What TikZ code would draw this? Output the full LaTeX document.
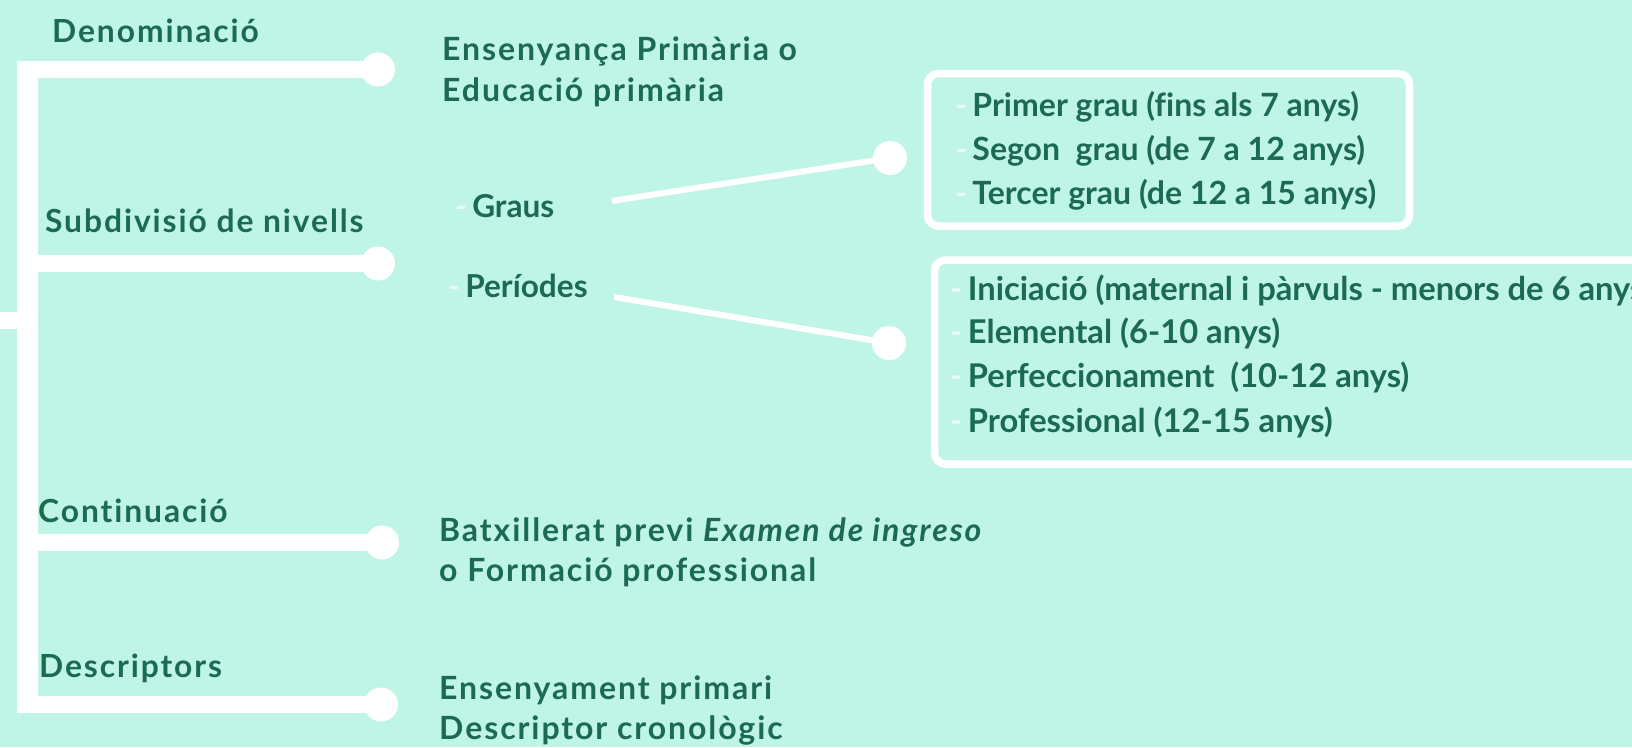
\documentclass[tikz,border=0pt]{standalone}
\usepackage{fontspec}
\setmainfont{Lato}[Ligatures=NoCommon]
\newfontfamily\trackfont{Lato}[LetterSpace=6,Ligatures=NoCommon]
\definecolor{bg}{HTML}{BFF5E7}
\definecolor{ink}{HTML}{1B6A51}
\definecolor{dashc}{HTML}{EAFBF5}
\newcommand{\dsh}{\textcolor{dashc}{-}\,}
\tikzset{
  lbl/.style={anchor=base west, inner sep=0pt, text=ink, font=\trackfont\bfseries\fontsize{31.8}{32}\selectfont},
  val/.style={anchor=base west, inner sep=0pt, text=ink, font=\trackfont\bfseries\fontsize{32}{32}\selectfont},
  sub/.style={anchor=base west, inner sep=0pt, text=ink, font=\bfseries\fontsize{31.6}{32}\selectfont},
  item/.style={anchor=base west, inner sep=0pt, text=ink, font=\bfseries\fontsize{32}{32}\selectfont},
  itemb/.style={anchor=base west, inner sep=0pt, text=ink, font=\bfseries\fontsize{32.7}{33}\selectfont},
  dot/.style={circle, fill=white, draw=none, minimum size=34pt, inner sep=0pt},
  sdot/.style={circle, fill=white, draw=none, minimum size=34pt, inner sep=0pt},
  branch/.style={draw=white, line width=17pt},
  twig/.style={draw=white, line width=6pt},
  frame/.style={draw=white, line width=7.5pt, rounded corners=11pt}
}
\begin{document}
\begin{tikzpicture}[x=1pt,y=-1pt]
\useasboundingbox (0,0) rectangle (1632,747);
\fill[bg] (0,0) rectangle (1632,747);
\clip (0,0) rectangle (1632,747);

% trunk
\fill[white] (17,61) rectangle (38,713);
\fill[white] (0,312) rectangle (17,329);

% end dots
\node[dot] (c1) at (378,69.5) {};
\node[dot] (c2) at (378,263.5) {};
\node[dot] (c3) at (382,542.5) {};
\node[dot] (c4) at (381,704.5) {};
\coordinate (b1) at (17,69.5);
\coordinate (b2) at (17,263.5);
\coordinate (b3) at (17,542.5);
\coordinate (b4) at (17,704.5);
\draw[branch] (b1) -- (c1.center);
\draw[branch] (b2) -- (c2.center);
\draw[branch] (b3) -- (c3.center);
\draw[branch] (b4) -- (c4.center);

% labels
\node[lbl] (denom) at (52,42) {Denominació};
\node[lbl] (subdiv) at (45,232) {Subdivisió de nivells};
\node[lbl] (cont) at (38,522) {Continuació};
\node[lbl] (desc) at (39,677) {Descriptors};

% values
\node[val] (ens1) at (442,60) {Ensenyança Primària o};
\node[val] (ens2) at (442,101) {Educació primària};
\node[val] (bat1) at (439,541) {Batxillerat previ \textit{Examen de ingreso}};
\node[val] (bat2) at (439,581) {o Formació professional};
\node[val] (ese1) at (439,699) {Ensenyament primari};
\node[val] (ese2) at (439,739) {Descriptor cronològic};

% sub items
\node[sub] (graus) at (455,217) {\dsh Graus};
\node[sub] (peri) at (448,297) {\dsh Períodes};

% small dots and twigs
\node[sdot] (g1) at (890,158) {};
\node[sdot] (g2) at (889,343) {};
\coordinate (gs) at (612,201);
\coordinate (ps) at (614,297);
\draw[twig] (gs) -- (g1.center);
\draw[twig] (ps) -- (g2.center);

% boxes
\draw[frame] (927.5,73.5) rectangle (1409.5,226);
\draw[frame] (934.5,260) rectangle (1680,464);

\node[item] (p1) at (955,116) {\dsh Primer grau (fins als 7 anys)};
\node[item] (p2) at (955,160) {\dsh Segon\ \ grau (de 7 a 12 anys)};
\node[item] (p3) at (955,204) {\dsh Tercer grau (de 12 a 15 anys)};

\node[itemb] (q1) at (950,300) {\dsh Iniciació (maternal i pàrvuls - menors de 6 anys};
\node[itemb] (q2) at (950,343) {\dsh Elemental (6-10 anys)};
\node[itemb] (q3) at (950,387) {\dsh Perfeccionament\ \ (10-12 anys)};
\node[itemb] (q4) at (950,432) {\dsh Professional (12-15 anys)};
\end{tikzpicture}
\end{document}
